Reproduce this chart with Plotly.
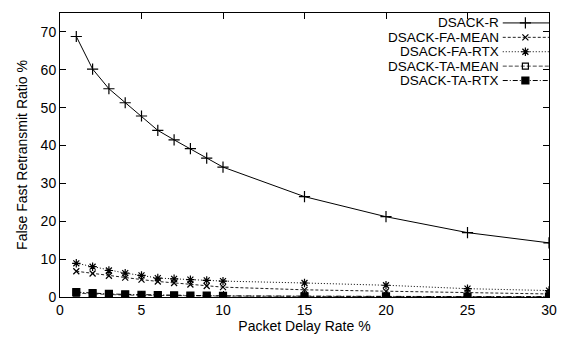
import plotly.graph_objects as go

delay_rate = [1, 2, 3, 4, 5, 6, 7, 8, 9, 10, 15, 20, 25, 30]
dsack_r = [68.8, 60.2, 55.0, 51.3, 47.8, 44.0, 41.5, 39.2, 36.7, 34.3, 26.5, 21.2, 17.0, 14.3]
dsack_fa_mean = [6.8, 6.2, 5.6, 5.1, 4.6, 4.1, 3.7, 3.3, 2.9, 2.6, 1.9, 1.5, 1.1, 0.8]
dsack_fa_rtx = [8.9, 8.0, 7.0, 6.3, 5.7, 5.0, 4.8, 4.6, 4.4, 4.2, 3.7, 3.1, 2.2, 1.7]
dsack_ta_mean = [1.0, 0.8, 0.6, 0.5, 0.45, 0.4, 0.35, 0.3, 0.3, 0.25, 0.15, 0.1, 0.08, 0.05]
dsack_ta_rtx = [1.3, 1.0, 0.8, 0.7, 0.6, 0.5, 0.45, 0.4, 0.35, 0.3, 0.2, 0.15, 0.1, 0.1]

series_names = ["DSACK-R", "DSACK-FA-MEAN", "DSACK-FA-RTX", "DSACK-TA-MEAN", "DSACK-TA-RTX"]
series_values = [dsack_r, dsack_fa_mean, dsack_fa_rtx, dsack_ta_mean, dsack_ta_rtx]
x_ticks = [0, 5, 10, 15, 20, 25, 30]
y_ticks = [0, 10, 20, 30, 40, 50, 60, 70]

styles = [
    dict(dash="solid", symbol="cross-thin", size=8, color="#000000"),
    dict(dash="3px,2px", symbol="x-thin", size=6, color="#222222"),
    dict(dash="1px,2px", symbol="asterisk", size=7, color="#000000"),
    dict(dash="4px,2px", symbol="square-open", size=6, color="#444444"),
    dict(dash="5px,2px,1px,2px", symbol="square", size=7, color="#000000"),
]

FONT = "Liberation Sans, Arial, Helvetica, sans-serif"

fig = go.Figure()
for name, vals, st in zip(series_names, series_values, styles):
    fig.add_trace(go.Scatter(
        x=delay_rate, y=vals, mode="lines+markers", name=name, showlegend=False,
        line=dict(color=st["color"], width=1, dash=st["dash"]),
        marker=dict(symbol=st["symbol"], size=st["size"], color="#000000",
                    line=dict(color="#000000", width=1.2)),
    ))

# custom gnuplot-style legend (text left, sample right) on an overlay axis in pixel units
leg_y = [23, 37.5, 52, 66.5, 81]
for name, st, ly in zip(series_names, styles, leg_y):
    fig.add_trace(go.Scatter(
        x=[510, 557], y=[ly, ly], mode="lines", xaxis="x2", yaxis="y2", showlegend=False,
        line=dict(color=st["color"], width=1, dash=st["dash"]), hoverinfo="skip",
    ))
    fig.add_trace(go.Scatter(
        x=[533], y=[ly], mode="markers", xaxis="x2", yaxis="y2", showlegend=False,
        marker=dict(symbol=st["symbol"], size=st["size"], color="#000000",
                    line=dict(color="#000000", width=1.2)), hoverinfo="skip",
    ))
    fig.add_annotation(x=507, y=ly, xref="x2", yref="y2", text=name, showarrow=False,
                       xanchor="right", yanchor="middle", height=13, borderpad=0,
                       font=dict(family=FONT, size=13.5, color="#000000"))

axis_common = dict(
    showgrid=False, zeroline=False, showline=True, linecolor="#000000", linewidth=1,
    mirror="allticks", ticks="inside", ticklen=6, tickcolor="#000000", tickwidth=1,
    tickfont=dict(family=FONT, size=14, color="#000000"),
)

fig.update_layout(
    width=568, height=343,
    margin=dict(l=60, r=11, t=13, b=44),
    paper_bgcolor="white", plot_bgcolor="white",
    xaxis=dict(range=[0, 30], tickvals=x_ticks, ticklabeloverflow="allow",
               title=dict(text="Packet Delay Rate %",
               font=dict(family=FONT, size=14, color="#000000"), standoff=4), **axis_common),
    yaxis=dict(range=[0, 75], tickvals=y_ticks,
               title=dict(text="False Fast Retransmit Ratio %",
               font=dict(family=FONT, size=14, color="#000000"), standoff=9), **axis_common),
    xaxis2=dict(range=[60, 557], overlaying="x", visible=False, fixedrange=True),
    yaxis2=dict(range=[299, 13], overlaying="y", visible=False, fixedrange=True),
    showlegend=False,
)

fig.write_html("out.html", config={"displayModeBar": False},
               post_script="document.body.style.margin='0';")
